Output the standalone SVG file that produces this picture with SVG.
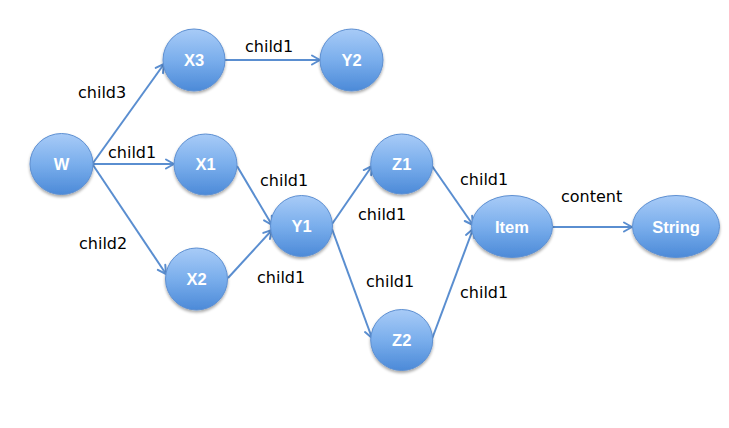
<svg xmlns="http://www.w3.org/2000/svg" width="729" height="428" viewBox="0 0 729 428">
<defs>
<linearGradient id="g" x1="0" y1="0" x2="0" y2="1">
<stop offset="0" stop-color="#a8cbf7"/>
<stop offset="0.5" stop-color="#7aaeec"/>
<stop offset="1" stop-color="#4c8ad8"/>
</linearGradient>
<filter id="sh" x="-20%" y="-20%" width="140%" height="150%">
<feGaussianBlur in="SourceAlpha" stdDeviation="1.5"/>
<feOffset dy="2" result="b"/>
<feComponentTransfer><feFuncA type="linear" slope="0.35"/></feComponentTransfer>
<feMerge><feMergeNode/><feMergeNode in="SourceGraphic"/></feMerge>
</filter>
<marker id="arr" viewBox="0 0 12 12" refX="10" refY="6" markerWidth="12" markerHeight="12" markerUnits="userSpaceOnUse" orient="auto">
<path d="M2,1.5 L10,6 L2,10.5" fill="none" stroke="#5a8ed0" stroke-width="2" stroke-linecap="round" stroke-linejoin="round"/>
</marker>
</defs>
<style>
.n{fill:url(#g);stroke:#5e90d2;stroke-width:1;filter:url(#sh)}
.nt{font-family:"Liberation Sans",Arial,sans-serif;font-size:16.5px;font-weight:bold;fill:#ffffff;text-anchor:middle}
.e{fill:none;stroke:#5a8ed0;stroke-width:2;marker-end:url(#arr)}
.l{font-family:"DejaVu Sans",sans-serif;font-size:16px;fill:#000000}
</style>
<rect width="729" height="428" fill="#ffffff"/>
<g id="connectors">
<line class="e" x1="93" y1="163" x2="164" y2="64"/>
<line class="e" x1="93" y1="164" x2="174" y2="164"/>
<line class="e" x1="93" y1="165" x2="166" y2="274"/>
<line class="e" x1="225" y1="60" x2="320" y2="60"/>
<line class="e" x1="237" y1="166" x2="272" y2="225"/>
<line class="e" x1="228" y1="278" x2="272" y2="230"/>
<line class="e" x1="332" y1="224" x2="372" y2="166"/>
<line class="e" x1="332" y1="229" x2="372" y2="338"/>
<line class="e" x1="432" y1="166" x2="473" y2="225"/>
<line class="e" x1="432" y1="339" x2="473" y2="229"/>
<line class="e" x1="553" y1="227" x2="632" y2="227"/>
</g>
<g id="labels">
<text class="l" x="245" y="52">child1</text>
<text class="l" x="78" y="98">child3</text>
<text class="l" x="108" y="158">child1</text>
<text class="l" x="260" y="186">child1</text>
<text class="l" x="79" y="249">child2</text>
<text class="l" x="257" y="283">child1</text>
<text class="l" x="358" y="220">child1</text>
<text class="l" x="366" y="287">child1</text>
<text class="l" x="460" y="185">child1</text>
<text class="l" x="460" y="298">child1</text>
<text class="l" x="561" y="202">content</text>
</g>
<g id="W"><ellipse class="n" cx="61.5" cy="164" rx="31.5" ry="30.5"/><text class="nt" x="61.5" y="170">W</text></g>
<g id="X3"><ellipse class="n" cx="194" cy="60" rx="31" ry="31"/><text class="nt" x="194" y="66">X3</text></g>
<g id="Y2"><ellipse class="n" cx="351.5" cy="60" rx="31.5" ry="31"/><text class="nt" x="351.5" y="66">Y2</text></g>
<g id="X1"><ellipse class="n" cx="205.5" cy="164.5" rx="31.5" ry="30.5"/><text class="nt" x="205.5" y="170">X1</text></g>
<g id="X2"><ellipse class="n" cx="196.5" cy="279" rx="31" ry="31"/><text class="nt" x="196.5" y="285">X2</text></g>
<g id="Y1"><ellipse class="n" cx="301.5" cy="226" rx="31" ry="30.5"/><text class="nt" x="301.5" y="232">Y1</text></g>
<g id="Z1"><ellipse class="n" cx="401.7" cy="164" rx="31" ry="30"/><text class="nt" x="401.7" y="170">Z1</text></g>
<g id="Z2"><ellipse class="n" cx="401.7" cy="340" rx="31" ry="30.5"/><text class="nt" x="401.7" y="346">Z2</text></g>
<g id="Item"><ellipse class="n" cx="512" cy="226.5" rx="40.5" ry="31"/><text class="nt" x="512" y="232.5">Item</text></g>
<g id="String"><ellipse class="n" cx="676" cy="226.5" rx="43.5" ry="31"/><text class="nt" x="676" y="232.5">String</text></g>
</svg>
